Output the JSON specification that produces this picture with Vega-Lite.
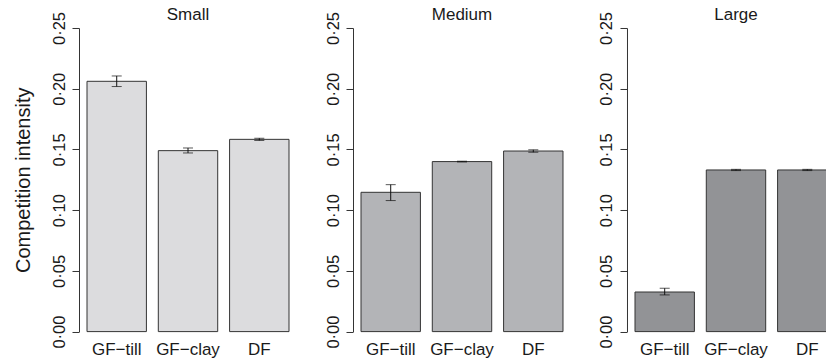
{
  "$schema": "https://vega.github.io/schema/vega-lite/v6.json",
  "padding": {"left": 12, "top": 6, "right": -12, "bottom": 5},
  "bounds": "flush",
  "spacing": 72,
  "datasets": {
    "ci": [
      {"size": "Small", "treatment": "GF−till", "mean": 0.2061, "lo": 0.2018, "hi": 0.2105},
      {"size": "Small", "treatment": "GF−clay", "mean": 0.149, "lo": 0.1471, "hi": 0.1512},
      {"size": "Small", "treatment": "DF", "mean": 0.1583, "lo": 0.1574, "hi": 0.1592},
      {"size": "Medium", "treatment": "GF−till", "mean": 0.1147, "lo": 0.1079, "hi": 0.121},
      {"size": "Medium", "treatment": "GF−clay", "mean": 0.14, "lo": 0.1397, "hi": 0.1403},
      {"size": "Medium", "treatment": "DF", "mean": 0.1487, "lo": 0.1477, "hi": 0.1497},
      {"size": "Large", "treatment": "GF−till", "mean": 0.0326, "lo": 0.0302, "hi": 0.0357},
      {"size": "Large", "treatment": "GF−clay", "mean": 0.1331, "lo": 0.1326, "hi": 0.1336},
      {"size": "Large", "treatment": "DF", "mean": 0.1331, "lo": 0.1326, "hi": 0.1336}
    ]
  },
  "config": {
    "view": {"stroke": null},
    "font": "Liberation Sans",
    "axis": {"grid": false, "labelFont": "Liberation Sans", "titleFont": "Liberation Sans", "labelColor": "#1a1a1a", "titleColor": "#1a1a1a", "titleFontWeight": "normal"},
    "title": {"font": "Liberation Sans", "fontSize": 17, "fontWeight": "normal", "color": "#1a1a1a", "offset": -13}
  },
  "hconcat": [
    {
      "title": "Small",
      "width": 202, "height": 303.6,
      "data": {"name": "ci"},
      "transform": [{"filter": "datum.size === 'Small'"}],
      "encoding": {
        "x": {"field": "treatment", "type": "nominal", "sort": ["GF−till", "GF−clay", "DF"],
              "scale": {"paddingInner": 0.1667, "paddingOuter": 0},
              "axis": {"title": null, "domain": false, "ticks": false, "labelAngle": 0, "labelFontSize": 17, "labelPadding": 10}}
      },
      "layer": [
        {"mark": {"type": "bar", "color": "#dcdcde", "stroke": "#333333", "strokeWidth": 1},
         "encoding": {"y": {"field": "mean", "type": "quantitative", "scale": {"domain": [0, 0.25], "nice": false},
           "axis": {"title": "Competition intensity", "titleFontSize": 20, "titlePadding": 18, "values": [0, 0.05, 0.1, 0.15, 0.2, 0.25],
                    "labelExpr": "replace(format(datum.value, '.2f'), '.', '·')", "labelAngle": -90, "labelAlign": "center", "labelBaseline": "alphabetic",
                    "labelFontSize": 16.5, "labelPadding": 8, "offset": 8, "tickSize": 7, "domainColor": "#333333", "tickColor": "#333333"}}}},
        {"mark": {"type": "rule", "color": "#111111"}, "encoding": {"y": {"field": "lo", "type": "quantitative"}, "y2": {"field": "hi"}}},
        {"mark": {"type": "tick", "color": "#111111", "size": 10, "thickness": 1}, "encoding": {"y": {"field": "lo", "type": "quantitative"}}},
        {"mark": {"type": "tick", "color": "#111111", "size": 10, "thickness": 1}, "encoding": {"y": {"field": "hi", "type": "quantitative"}}}
      ]
    },
    {
      "title": "Medium",
      "width": 202, "height": 303.6,
      "data": {"name": "ci"},
      "transform": [{"filter": "datum.size === 'Medium'"}],
      "encoding": {
        "x": {"field": "treatment", "type": "nominal", "sort": ["GF−till", "GF−clay", "DF"],
              "scale": {"paddingInner": 0.1667, "paddingOuter": 0},
              "axis": {"title": null, "domain": false, "ticks": false, "labelAngle": 0, "labelFontSize": 17, "labelPadding": 10}}
      },
      "layer": [
        {"mark": {"type": "bar", "color": "#b3b4b7", "stroke": "#333333", "strokeWidth": 1},
         "encoding": {"y": {"field": "mean", "type": "quantitative", "scale": {"domain": [0, 0.25], "nice": false},
           "axis": {"title": null, "values": [0, 0.05, 0.1, 0.15, 0.2, 0.25],
                    "labelExpr": "replace(format(datum.value, '.2f'), '.', '·')", "labelAngle": -90, "labelAlign": "center", "labelBaseline": "alphabetic",
                    "labelFontSize": 16.5, "labelPadding": 8, "offset": 8, "tickSize": 7, "domainColor": "#333333", "tickColor": "#333333"}}}},
        {"mark": {"type": "rule", "color": "#111111"}, "encoding": {"y": {"field": "lo", "type": "quantitative"}, "y2": {"field": "hi"}}},
        {"mark": {"type": "tick", "color": "#111111", "size": 10, "thickness": 1}, "encoding": {"y": {"field": "lo", "type": "quantitative"}}},
        {"mark": {"type": "tick", "color": "#111111", "size": 10, "thickness": 1}, "encoding": {"y": {"field": "hi", "type": "quantitative"}}}
      ]
    },
    {
      "title": "Large",
      "width": 202, "height": 303.6,
      "data": {"name": "ci"},
      "transform": [{"filter": "datum.size === 'Large'"}],
      "encoding": {
        "x": {"field": "treatment", "type": "nominal", "sort": ["GF−till", "GF−clay", "DF"],
              "scale": {"paddingInner": 0.1667, "paddingOuter": 0},
              "axis": {"title": null, "domain": false, "ticks": false, "labelAngle": 0, "labelFontSize": 17, "labelPadding": 10}}
      },
      "layer": [
        {"mark": {"type": "bar", "color": "#929396", "stroke": "#333333", "strokeWidth": 1},
         "encoding": {"y": {"field": "mean", "type": "quantitative", "scale": {"domain": [0, 0.25], "nice": false},
           "axis": {"title": null, "values": [0, 0.05, 0.1, 0.15, 0.2, 0.25],
                    "labelExpr": "replace(format(datum.value, '.2f'), '.', '·')", "labelAngle": -90, "labelAlign": "center", "labelBaseline": "alphabetic",
                    "labelFontSize": 16.5, "labelPadding": 8, "offset": 8, "tickSize": 7, "domainColor": "#333333", "tickColor": "#333333"}}}},
        {"mark": {"type": "rule", "color": "#111111"}, "encoding": {"y": {"field": "lo", "type": "quantitative"}, "y2": {"field": "hi"}}},
        {"mark": {"type": "tick", "color": "#111111", "size": 10, "thickness": 1}, "encoding": {"y": {"field": "lo", "type": "quantitative"}}},
        {"mark": {"type": "tick", "color": "#111111", "size": 10, "thickness": 1}, "encoding": {"y": {"field": "hi", "type": "quantitative"}}}
      ]
    }
  ]
}
